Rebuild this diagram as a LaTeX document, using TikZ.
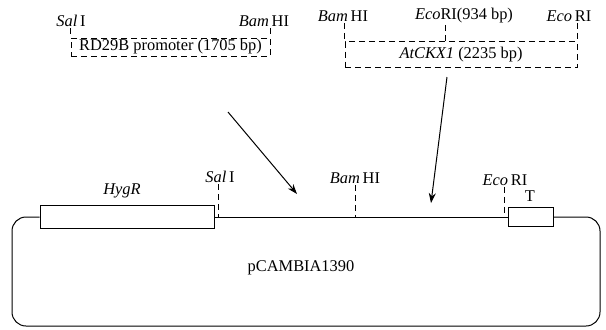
\documentclass[tikz,border=0pt]{standalone}
\usepackage{fontspec}
\setmainfont{Liberation Serif}
\usepackage{tikz}
\usetikzlibrary{arrows.meta,positioning,calc}

\begin{document}
\begin{tikzpicture}[x=0.5pt, y=-0.5pt, line width=0.5pt,
  every node/.style={font=\fontsize{8.2}{9}\selectfont, inner sep=0.5pt},
  insertbox/.style={draw, densely dashed, inner sep=0pt},
  genebox/.style={draw, fill=white, inner sep=0pt},
  sitetick/.style={densely dashed},
  cloning/.style={-{Stealth[length=5pt, width=3.5pt]}}]
  \useasboundingbox (0,0) rectangle (606,329);
  % Promoter fragment
  \node[insertbox, minimum width=99.5pt, minimum height=9pt] (prom) at (170.5,47) {RD29B promoter (1705 bp)};
  \node (salA) at (71,21) {\textit{Sal}\,I};
  \node (bamA) at (264,21) {\textit{Bam}\,HI};
  \draw[sitetick] (salA.south -| prom.north west) -- (prom.north west);
  \draw[sitetick] (bamA.south -| prom.north east) -- (prom.north east);
  % Gene fragment
  \node[insertbox, minimum width=116pt, minimum height=13pt] (gene) at (461,54.5) {\textit{AtCKX1} (2235 bp)};
  \node (bamB) at (343,16) {\textit{Bam}\,HI};
  \node (ecoM) at (464,16) {\textit{Eco}RI(934 bp)};
  \node (ecoA) at (569,16) {\textit{Eco}\,RI};
  \coordinate (ecoMid) at (445,42);
  \draw[sitetick] (bamB.south -| gene.north west) -- (gene.north west);
  \draw[sitetick] (ecoMid |- ecoM.south) -- (ecoMid);
  \draw[sitetick] (ecoA.south -| gene.north east) -- (gene.north east);
  % Vector
  \node[genebox, minimum width=87pt, minimum height=11.5pt] (hyg) at (127,217) {};
  \node[genebox, minimum width=22.5pt, minimum height=9.5pt] (term) at (530.5,217) {};
  \draw[rounded corners=7pt] (hyg.west) -- (12,217) -- (12,326) -- (600,326) -- (600,217) -- (term.east);
  \draw (hyg.east) -- (term.west);
  \node (hygR) at (122,191) {\textit{HygR}};
  \node (termT) at (530,196) {T};
  \node (salB) at (220,177) {\textit{Sal}\,I};
  \node (bamC) at (355,178) {\textit{Bam}\,HI};
  \node (ecoB) at (505,180) {\textit{Eco}\,RI};
  \coordinate (salSite) at (218,217);
  \coordinate (ecoSite) at (504,217);
  \draw[sitetick] (salB.south -| salSite) -- (salSite);
  \draw[sitetick] (bamC.south) -- (bamC.south |- hyg.east);
  \draw[sitetick] (ecoB.south -| ecoSite) -- (ecoSite);
  \node (vec) at (301,268) {pCAMBIA1390};
  % Arrows
  \coordinate (promTail) at (228,112);
  \coordinate (promHead) at (297,194);
  \coordinate (geneTail) at (447,77);
  \coordinate (geneHead) at (431,203);
  \draw[cloning] (promTail) -- (promHead);
  \draw[cloning] (geneTail) -- (geneHead);
\end{tikzpicture}
\end{document}
